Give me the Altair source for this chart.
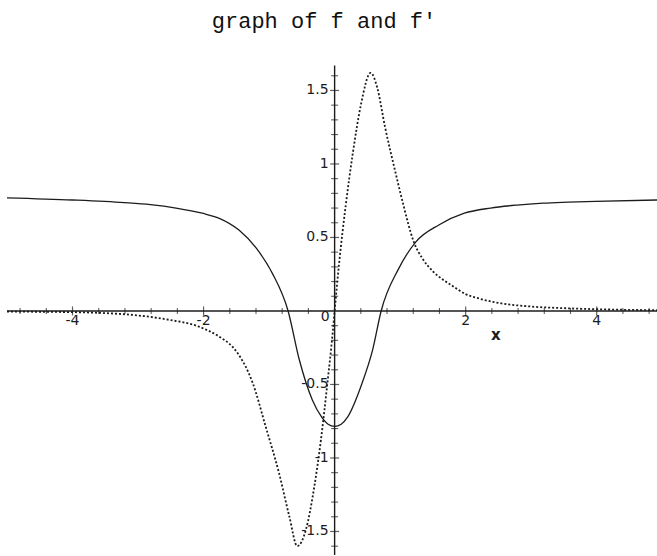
import altair as alt
import pandas as pd

TITLE = "graph of f and f'"

# f(x): even function, minimum at x = 0, zeros at +-sqrt(2)/2
f_x = [-5.0, -4.0, -3.21, -2.81, -2.42, -2.02, -1.76, -1.46, -1.15, -0.95, -0.71,
       -0.54, -0.34, -0.2, -0.1, 0.0, 0.1, 0.2, 0.42, 0.58, 0.71, 0.98, 1.24, 1.59, 1.98,
       2.38, 2.78, 3.18, 3.57, 3.98, 4.92]
f_y = [0.77, 0.755, 0.737, 0.723, 0.70, 0.665, 0.63, 0.55, 0.40, 0.256, 0.0,
       -0.33, -0.605, -0.72, -0.77, -0.785, -0.77, -0.72, -0.49, -0.265, 0.0, 0.29, 0.47, 0.585, 0.665,
       0.70, 0.72, 0.733, 0.74, 0.746, 0.755]

# f'(x): odd function
fp_x = [-5.0, -4.4, -4.0, -3.59, -3.08, -2.57, -2.07, -1.76, -1.56, -1.46, -1.25,
        -1.05, -0.85, -0.69, -0.57, -0.44, -0.31, -0.21, -0.11, -0.03, 0.0, 0.07,
        0.17, 0.28, 0.40, 0.55, 0.65, 0.77, 0.93, 1.05, 1.2, 1.35, 1.5,
        1.8, 2.0, 2.2, 2.5, 3.0, 3.5, 4.0, 4.92]
fp_y = [-0.004, -0.006, -0.008, -0.013, -0.027, -0.057, -0.107, -0.175, -0.243, -0.30, -0.49,
        -0.79, -1.10, -1.40, -1.60, -1.49, -1.195, -0.88, -0.49, -0.15, 0.0, 0.33,
        0.72, 1.08, 1.40, 1.62, 1.52, 1.25, 0.94, 0.72, 0.48, 0.35, 0.27,
        0.17, 0.115, 0.085, 0.055, 0.03, 0.019, 0.012, 0.005]

# axis ticks and labels
x_major = [-4, -2, 2, 4]
x_major_labels = ["-4", "-2", "2", "4"]
y_major = [-1.5, -1.0, -0.5, 0.5, 1.0, 1.5]
y_major_labels = ["-1.5", "-1", "-0.5", "0.5", "1", "1.5"]
x_minor = [v for v in (round(-4.8 + 0.4 * i, 1) for i in range(25)) if v not in (0,) + tuple(x_major)]
y_minor = [v for v in (round(-1.6 + 0.1 * i, 1) for i in range(33)) if v not in (0,) + tuple(y_major)]

X_DOMAIN = [-5.0, 4.92]
Y_DOMAIN = [-1.66, 1.68]
AXIS_NAME = ["x"]
AXIS_NAME_X = [2.46]

INK = "#1c1c1c"
TICK_FONT = "DejaVu Sans"

xs = alt.Scale(domain=X_DOMAIN, nice=False, zero=False)
ys = alt.Scale(domain=Y_DOMAIN, nice=False, zero=False)


def xe(field="x"):
    return alt.X(field, type="quantitative", scale=xs, axis=None)


def ye(field="y"):
    return alt.Y(field, type="quantitative", scale=ys, axis=None)


df_f = pd.DataFrame({"x": f_x, "y": f_y})
df_fp = pd.DataFrame({"x": fp_x, "y": fp_y})

curve_f = alt.Chart(df_f).mark_line(
    color=INK, strokeWidth=1.3, interpolate="monotone", clip=True
).encode(x=xe(), y=ye())

curve_fp = alt.Chart(df_fp).mark_line(
    color=INK, strokeWidth=1.8, strokeDash=[2, 2], interpolate="monotone", clip=True
).encode(x=xe(), y=ye())

x_axis_line = alt.Chart(pd.DataFrame({"x": [X_DOMAIN[0]], "x2": [X_DOMAIN[1]], "y": [0]})).mark_rule(
    color=INK, strokeWidth=1.4
).encode(x=xe(), x2="x2", y=ye())

y_axis_line = alt.Chart(pd.DataFrame({"x": [0], "y": [Y_DOMAIN[0]], "y2": [Y_DOMAIN[1] - 0.01]})).mark_rule(
    color=INK, strokeWidth=1.4
).encode(x=xe(), y=ye(), y2="y2")

x_minor_ticks = alt.Chart(pd.DataFrame({"x": x_minor, "y": [0] * len(x_minor)})).mark_tick(
    color=INK, orient="vertical", size=6, thickness=1.1
).encode(x=xe(), y=ye())
x_major_ticks = alt.Chart(pd.DataFrame({"x": x_major, "y": [0] * len(x_major)})).mark_tick(
    color=INK, orient="vertical", size=9, thickness=1.2
).encode(x=xe(), y=ye())

y_minor_ticks = alt.Chart(pd.DataFrame({"x": [0] * len(y_minor), "y": y_minor})).mark_tick(
    color=INK, orient="horizontal", size=7, thickness=1.1
).encode(x=xe(), y=ye())
y_major_ticks = alt.Chart(pd.DataFrame({"x": [0] * len(y_major), "y": y_major})).mark_tick(
    color=INK, orient="horizontal", size=9, thickness=1.2
).encode(x=xe(), y=ye())

x_labels = alt.Chart(pd.DataFrame({"x": x_major, "y": [0] * len(x_major), "t": x_major_labels})).mark_text(
    font=TICK_FONT, fontSize=14, color=INK, align="center", baseline="middle", dy=10
).encode(x=xe(), y=ye(), text="t:N")

y_labels = alt.Chart(pd.DataFrame({"x": [0] * len(y_major), "y": y_major, "t": y_major_labels})).mark_text(
    font=TICK_FONT, fontSize=14, color=INK, align="right", baseline="middle", dx=-6
).encode(x=xe(), y=ye(), text="t:N")

origin_label = alt.Chart(pd.DataFrame({"x": [0], "y": [0], "t": ["0"]})).mark_text(
    font=TICK_FONT, fontSize=14, color=INK, align="right", baseline="middle", dx=-5, dy=6
).encode(x=xe(), y=ye(), text="t:N")

axis_name = alt.Chart(pd.DataFrame({"x": AXIS_NAME_X, "y": [0], "t": AXIS_NAME})).mark_text(
    font=TICK_FONT, fontSize=15, fontWeight="bold", color=INK, align="center", baseline="middle", dy=24
).encode(x=xe(), y=ye(), text="t:N")

chart = alt.layer(
    x_axis_line, y_axis_line,
    x_minor_ticks, x_major_ticks, y_minor_ticks, y_major_ticks,
    curve_f, curve_fp,
    x_labels, y_labels, origin_label, axis_name,
).properties(
    width=650,
    height=491,
    padding={"left": 7, "top": 64, "right": 0, "bottom": 1},
    autosize="none",
    background="white",
    title=alt.TitleParams(
        text=TITLE, font="Liberation Mono", fontSize=22, fontWeight="normal",
        color="#111111", anchor="middle", baseline="alphabetic", offset=14, dx=-8,
    ),
).configure_view(stroke=None)

chart.save("out.html", embed_options={"renderer": "svg", "actions": False})
